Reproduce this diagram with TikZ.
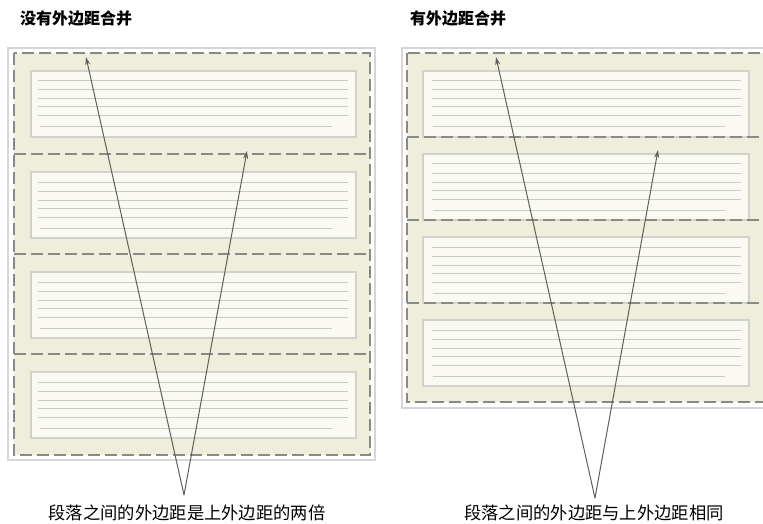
\documentclass[tikz,border=0pt]{standalone}
\usepackage{fontspec}
\newfontfamily\cjk{Noto Sans CJK SC}
\usetikzlibrary{arrows.meta}
\definecolor{beige}{HTML}{EFEEDA}
\definecolor{parafill}{HTML}{FAFAF3}
\definecolor{paraborder}{HTML}{D2D2CC}
\definecolor{textline}{HTML}{CACACA}
\definecolor{dashcol}{HTML}{8A8A84}
\definecolor{outercol}{HTML}{D6D6D6}
\definecolor{arrowcol}{HTML}{5E5E5E}
\tikzset{
  outerbox/.style={draw=outercol, line width=1.2pt, fill=white},
  marginbox/.style={fill=beige},
  dashline/.style={draw=dashcol, line width=1.3pt, dash pattern=on 12pt off 5pt},
  parabox/.style={draw=paraborder, line width=1.2pt, fill=parafill},
  textrule/.style={draw=textline, line width=1pt},
  pointer/.style={draw=arrowcol, line width=1pt, -{Stealth[length=8pt,width=5pt]}},
  title/.style={font=\cjk\bfseries\fontsize{16}{18}\selectfont, anchor=west, inner sep=0pt},
  caption/.style={font=\cjk\fontsize{17.3}{19}\selectfont, inner sep=0pt}
}
\begin{document}
\begin{tikzpicture}[x=1pt,y=-1pt]
\useasboundingbox (0,0) rectangle (763,524);
\clip (0,0) rectangle (763,524);
% titles
\node[title] (t1) at (20,18) {没有外边距合并};
\node[title] (t2) at (410,18) {有外边距合并};
% ---------- left panel ----------
\draw[outerbox] (8,48) rectangle (375,460);
\fill[marginbox] (14,53) rectangle (370,455);
\foreach \yt in {71,172,272,372} {
  \draw[parabox] (31,\yt) rectangle (356,\yt+66);
  \foreach \d in {10,19,28,36,45} \draw[textrule] (38,\yt+\d) -- (348,\yt+\d);
  \draw[textrule] (40,\yt+56) -- (332,\yt+56);
}
\draw[dashline] (14,53) rectangle (370,455);
\foreach \ys in {154,254,354} \draw[dashline] (14,\ys) -- (370,\ys);
% ---------- right panel ----------
\draw[outerbox] (402,48) rectangle (775,408);
\fill[marginbox] (407,53) rectangle (770,402);
\foreach \yt in {71,154,237,320} {
  \draw[parabox] (423,\yt) rectangle (749,\yt+66);
  \foreach \d in {10,19,28,36,45} \draw[textrule] (432,\yt+\d) -- (741,\yt+\d);
  \draw[textrule] (433,\yt+56) -- (725,\yt+56);
}
\draw[dashline] (407,53) rectangle (770,402);
\foreach \ys in {137,220,303} \draw[dashline] (407,\ys) -- (770,\ys);
% ---------- pointers ----------
\coordinate (la) at (184,495);
\coordinate (l1) at (86,57);
\coordinate (l2) at (247,151);
\coordinate (ra) at (595,498);
\coordinate (r1) at (496,57);
\coordinate (r2) at (658,150);
\draw[pointer] (la) -- (l1);
\draw[pointer] (la) -- (l2);
\draw[pointer] (ra) -- (r1);
\draw[pointer] (ra) -- (r2);
\node[caption] (c1) at (187,513) {段落之间的外边距是上外边距的两倍};
\node[caption] (c2) at (594,513) {段落之间的外边距与上外边距相同};
\end{tikzpicture}
\end{document}
